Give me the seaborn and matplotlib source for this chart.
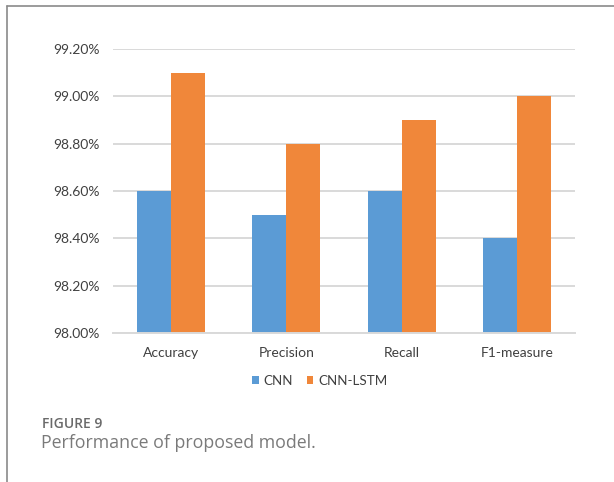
import matplotlib
matplotlib.use("Agg")
import matplotlib.pyplot as plt
import seaborn as sns
import pandas as pd
from matplotlib.patches import Patch
from matplotlib.lines import Line2D
from matplotlib.ticker import FuncFormatter

categories = ["Accuracy", "Precision", "Recall", "F1-measure"]
series_names = ["CNN", "CNN-LSTM"]
cnn_values = [98.6, 98.5, 98.6, 98.4]
cnn_lstm_values = [99.1, 98.8, 98.9, 99.0]
y_ticks = [98.0, 98.2, 98.4, 98.6, 98.8, 99.0, 99.2]
figure_label = "FIGURE 9"
caption = "Performance of proposed model."

colors = {"CNN": "#5B9BD5", "CNN-LSTM": "#F0873A"}

df = pd.DataFrame({
    "metric": categories * 2,
    "model": [series_names[0]] * len(categories) + [series_names[1]] * len(categories),
    "value": cnn_values + cnn_lstm_values,
})

sns.set_theme(style="white")
plt.rcParams["font.family"] = ["Lato", "DejaVu Sans"]

fig = plt.figure(figsize=(6.14, 4.82), dpi=100)
ax = fig.add_axes([0.184, 0.3091, 0.7524, 0.5892])

sns.barplot(data=df, x="metric", y="value", hue="model", order=categories,
            hue_order=series_names, palette=colors, width=0.59,
            saturation=1, ax=ax, legend=False, linewidth=0)

ax.set_ylim(98.0, 99.2)
ax.set_yticks(y_ticks)
ax.yaxis.set_major_formatter(FuncFormatter(lambda v, p: f"{v:.2f}%"))
ax.set_xlabel("")
ax.set_ylabel("")
ax.grid(axis="y", color="#d9d9d9", linewidth=1.4)
ax.set_axisbelow(True)
for s in ["top", "right", "left"]:
    ax.spines[s].set_visible(False)
ax.spines["bottom"].set_color("#d9d9d9")
ax.spines["bottom"].set_linewidth(1.4)
ax.tick_params(axis="both", length=0, labelsize=10, labelcolor="#404040")
ax.tick_params(axis="y", pad=9.5)
ax.tick_params(axis="x", pad=10)

handles = [Patch(facecolor=colors[n], edgecolor="none", label=n) for n in series_names]
fig.legend(handles=handles, loc="center", bbox_to_anchor=(0.521, 1 - 381 / 482),
           ncol=2, frameon=False, fontsize=9.6, labelcolor="#404040",
           handlelength=0.5, handleheight=0.5, handletextpad=0.4,
           columnspacing=1.0)

fig.text(42 / 614, 1 - 428 / 482, figure_label, fontsize=10, color="#6a6a6a",
         fontweight="semibold", family=["Open Sans", "DejaVu Sans"], va="baseline", ha="left")
fig.text(41 / 614, 1 - 448 / 482, caption, fontsize=12.8, color="#7a7a7a",
         family=["Open Sans", "DejaVu Sans"], va="baseline", ha="left")

# outer frame (left and top)
fig.add_artist(Line2D([7 / 614, 7 / 614], [0, 1 - 6 / 482], transform=fig.transFigure,
                      color="#8a8a8a", linewidth=1.2))
fig.add_artist(Line2D([7 / 614, 1], [1 - 6 / 482, 1 - 6 / 482], transform=fig.transFigure,
                      color="#8a8a8a", linewidth=1.2))

fig.savefig("out.png", dpi=100, facecolor="white")
